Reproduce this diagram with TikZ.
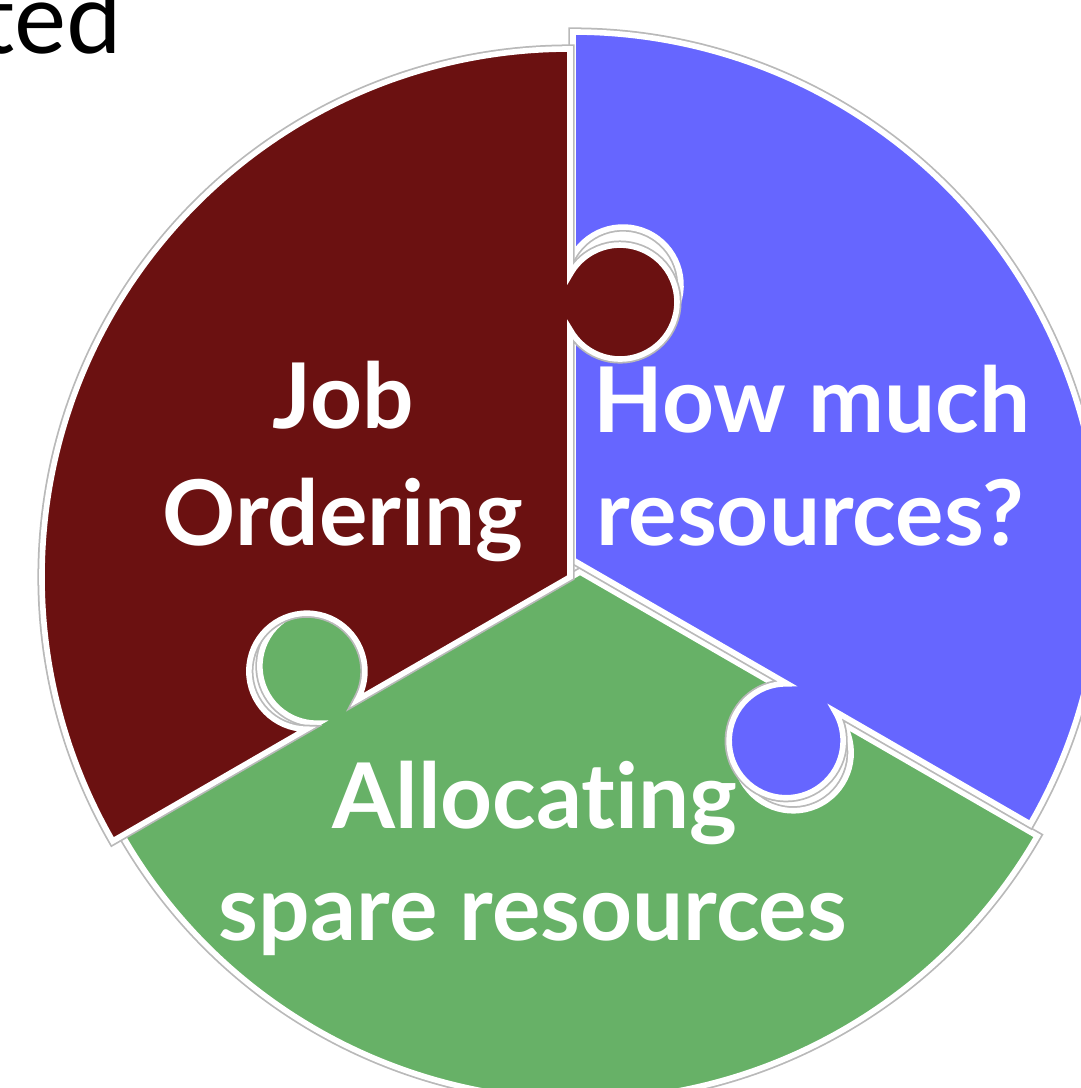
\documentclass[tikz,border=0pt]{standalone}
\usepackage{fontspec}
\setmainfont{Lato}[Ligatures=NoCommon]

\definecolor{rojo}{HTML}{6B1111}
\definecolor{azul}{HTML}{6666FF}
\definecolor{verde}{HTML}{67B167}

% Contorno de una pieza: sector de 120 grados, lengueta en un lado y hueco en el otro
\newcommand{\pieza}{(0,0) -- (2.476,0) arc (118.7:421.3:0.57) -- (5.28,0)
  arc (0:120:5.28) -- (120:3.044) arc (179.5:-119.5:0.58) -- cycle}

\tikzset{
  borde/.style={draw=white, line width=1.6pt,
    preaction={draw=gray!55, line width=2.6pt}},
  texto/.style={text=white, inner sep=0pt, anchor=base,
    font=\bfseries\fontsize{25.8}{31}\selectfont}
}

\begin{document}
\begin{tikzpicture}
  \useasboundingbox (0,0) rectangle (10.81,-10.88);

  % Pieza verde (abajo)
  \begin{scope}[shift={(5.80,-5.72)}, rotate=210]
    \path[borde, fill=verde] \pieza;
  \end{scope}

  % Pieza azul (derecha)
  \begin{scope}[shift={(5.73,-5.60)}, rotate=-30]
    \path[borde, fill=azul] \pieza;
  \end{scope}

  % Pieza roja (izquierda)
  \begin{scope}[shift={(5.70,-5.77)}, rotate=90]
    \path[borde, fill=rojo] \pieza;
  \end{scope}

  % Textos
  \node[texto] (job) at (3.43,-4.28) {Job};
  \node[texto] (ordering) at (3.43,-5.45) {Ordering};
  \node[texto] (how) at (8.12,-4.32) {How much};
  \node[texto] (res) at (8.10,-5.45) {resources?};
  \node[texto] (alloc) at (5.35,-8.28) {Allocating};
  \node[texto] (spare) at (5.33,-9.40) {spare resources};

  % Resto del titulo
  \node[inner sep=0pt, anchor=base east, font=\fontsize{28}{30}\selectfont]
    (ted) at (1.22,-0.53) {ted};
\end{tikzpicture}
\end{document}
